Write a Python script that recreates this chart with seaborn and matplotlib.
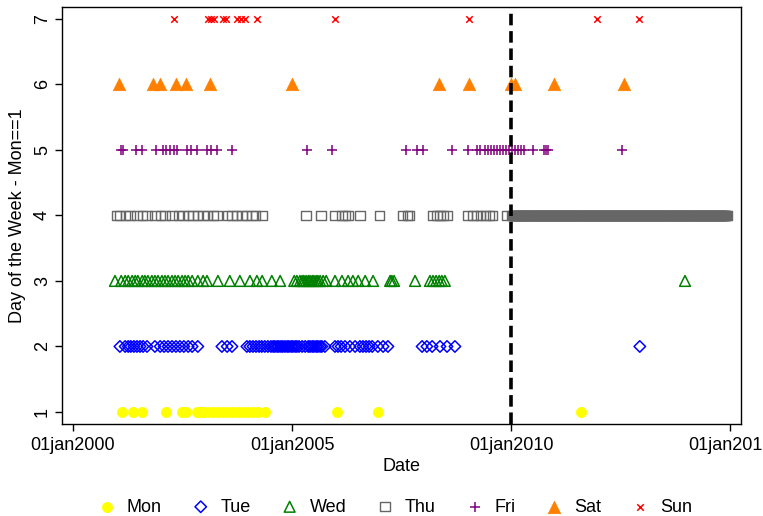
import numpy as np
import pandas as pd
import matplotlib
matplotlib.use("Agg")
import matplotlib.pyplot as plt
import matplotlib.dates as mdates
from matplotlib.ticker import FuncFormatter
import seaborn as sns

# ---------------- data (dates as decimal years) ----------------
day_names = ["Mon", "Tue", "Wed", "Thu", "Fri", "Sat", "Sun"]
day_numbers = [1, 2, 3, 4, 5, 6, 7]

mon_years = [2001.12, 2001.37, 2001.58, 2002.12, 2002.49, 2002.58, 2002.83, 2002.90,
             2002.97, 2003.08, 2003.20, 2003.31, 2003.42, 2003.54, 2003.65, 2003.77,
             2003.88, 2004.00, 2004.11, 2004.22, 2004.38, 2006.03, 2006.96, 2011.60]

tue_years = [2001.07, 2001.19, 2001.26, 2001.32, 2001.39, 2001.46, 2001.53, 2001.60,
             2001.69, 2001.87, 2001.99, 2002.08, 2002.17, 2002.26, 2002.35, 2002.44,
             2002.53, 2002.63, 2002.72, 2002.85, 2003.40, 2003.52, 2003.63, 2003.97,
             2004.04, 2004.11, 2004.18, 2004.25, 2004.31, 2004.38, 2004.45, 2004.52,
             2004.57, 2004.61, 2004.66, 2004.70, 2004.75, 2004.79, 2004.84, 2004.89,
             2004.93, 2004.98, 2005.02, 2005.07, 2005.11, 2005.16, 2005.23, 2005.30,
             2005.37, 2005.41, 2005.46, 2005.50, 2005.55, 2005.59, 2005.64, 2005.68,
             2005.75, 2005.98, 2006.05, 2006.12, 2006.21, 2006.32, 2006.44, 2006.55,
             2006.62, 2006.69, 2006.76, 2006.83, 2006.96, 2007.08, 2007.19, 2007.97,
             2008.08, 2008.20, 2008.38, 2008.54, 2008.72, 2012.94]

wed_years = [2000.96, 2001.10, 2001.19, 2001.26, 2001.35, 2001.42, 2001.48, 2001.58,
             2001.64, 2001.71, 2001.80, 2001.87, 2001.94, 2002.03, 2002.10, 2002.17,
             2002.26, 2002.33, 2002.40, 2002.49, 2002.56, 2002.63, 2002.72, 2002.85,
             2002.97, 2003.06, 2003.31, 2003.58, 2003.81, 2004.04, 2004.20, 2004.32,
             2004.54, 2004.73, 2005.05, 2005.11, 2005.18, 2005.23, 2005.27, 2005.32,
             2005.37, 2005.41, 2005.46, 2005.50, 2005.55, 2005.59, 2005.64, 2005.71,
             2005.78, 2005.98, 2006.14, 2006.28, 2006.39, 2006.51, 2006.67, 2006.85,
             2007.24, 2007.28, 2007.33, 2007.81, 2008.15, 2008.22, 2008.29, 2008.36,
             2008.42, 2008.49, 2013.97]

thu_years = [2001.00, 2001.07, 2001.19, 2001.30, 2001.46, 2001.58, 2001.69, 2001.87,
             2001.99, 2002.10, 2002.26, 2002.40, 2002.51, 2002.63, 2002.74, 2002.85,
             2002.97, 2003.08, 2003.20, 2003.29, 2003.52, 2003.63, 2003.74, 2003.86,
             2003.97, 2004.09, 2004.16, 2004.32, 2005.32, 2005.66, 2005.98, 2006.14,
             2006.21, 2006.28, 2006.55, 2006.99, 2007.53, 2007.63, 2007.69, 2008.22,
             2008.31, 2008.38, 2008.45, 2008.54, 2009.00, 2009.13, 2009.22, 2009.31,
             2009.41, 2009.50, 2009.57, 2009.89]
# from 2010 on, every Thursday is observed (solid band in the picture)
thu_weekly_start = "2010-01-07"
thu_weekly_end = "2014-12-11"

fri_years = [2001.10, 2001.14, 2001.44, 2001.58, 2001.89, 2002.05, 2002.12, 2002.21,
             2002.31, 2002.37, 2002.60, 2002.69, 2002.83, 2003.06, 2003.15, 2003.29,
             2003.63, 2005.34, 2005.91, 2007.60, 2007.85, 2007.99, 2008.65, 2009.02,
             2009.22, 2009.29, 2009.41, 2009.47, 2009.54, 2009.61, 2009.68, 2009.75,
             2009.82, 2009.89, 2009.95, 2010.02, 2010.09, 2010.16, 2010.23, 2010.30,
             2010.50, 2010.75, 2010.80, 2010.85, 2012.53]

sat_years = [2001.05, 2001.83, 2001.99, 2002.35, 2002.58, 2003.13, 2005.00, 2008.36,
             2009.04, 2010.00, 2010.09, 2010.98, 2012.58]

sun_years = [2002.31, 2003.08, 2003.15, 2003.22, 2003.42, 2003.49, 2003.74, 2003.84,
             2003.93, 2004.20, 2005.98, 2009.04, 2011.96, 2012.92]

cutoff_date = "2010-01-01"
x_tick_dates = ["2000-01-01", "2005-01-01", "2010-01-01", "2015-01-01"]
y_ticks = [1, 2, 3, 4, 5, 6, 7]
x_limits = (1999.75, 2015.25)
y_limits = (0.817, 7.18)


def dec_to_date(y):
    yr = int(np.floor(y))
    return pd.Timestamp(yr, 1, 1) + pd.Timedelta(days=(y - yr) * 365.25)


series = [mon_years, tue_years, wed_years, thu_years, fri_years, sat_years, sun_years]
rows = []
for name, num, yrs in zip(day_names, day_numbers, series):
    for y in yrs:
        rows.append((dec_to_date(y), num, name))
for d in pd.date_range(thu_weekly_start, thu_weekly_end, freq="W-THU"):
    rows.append((d, 4, "Thu"))
df = pd.DataFrame(rows, columns=["date", "dow", "day"])

# ---------------- styling ----------------
sns.set_style("ticks")
plt.rcParams["font.family"] = ["Liberation Sans", "DejaVu Sans"]
plt.rcParams["text.color"] = "black"
plt.rcParams["axes.labelcolor"] = "black"
plt.rcParams["xtick.color"] = "black"
plt.rcParams["ytick.color"] = "black"
FS = 13

fig = plt.figure(figsize=(7.63, 5.16), dpi=100)
ax = fig.add_axes([62 / 763, 1 - 424 / 516, (741 - 62) / 763, (424 - 7) / 516])

styles = {
    "Mon": dict(marker="o", s=55, color="#FFFF00", edgecolor="#FFFF00", linewidth=0.5),
    "Tue": dict(marker="D", s=34, color="#0000FF", facecolor="none", edgecolor="#0000FF", linewidth=1.1),
    "Wed": dict(marker="^", s=60, color="#008000", facecolor="none", edgecolor="#008000", linewidth=1.1),
    "Thu": dict(marker="s", s=44, color="#666666", facecolor="none", edgecolor="#666666", linewidth=1.0),
    "Fri": dict(marker="+", s=45, color="#800080", edgecolor="#800080", linewidth=1.1),
    "Sat": dict(marker="^", s=80, color="#FF8000", edgecolor="#FF8000", linewidth=0.5),
    "Sun": dict(marker="x", s=22, color="#FF0000", edgecolor="#FF0000", linewidth=1.1),
}

for name in day_names:
    sub = df[df["day"] == name]
    sns.scatterplot(data=sub, x="date", y="dow", ax=ax, label=name, **styles[name])

ax.axvline(pd.Timestamp(cutoff_date), color="black", linewidth=2.6,
           linestyle=(0, (3.2, 1.6)), zorder=5)

ax.set_xlim(dec_to_date(x_limits[0]), dec_to_date(x_limits[1]))
ax.set_ylim(*y_limits)
ax.set_xticks([pd.Timestamp(d) for d in x_tick_dates])
ax.xaxis.set_major_formatter(FuncFormatter(
    lambda v, p: mdates.num2date(v).strftime("%d%b%Y").lower()))
ax.set_yticks(y_ticks)
ax.tick_params(axis="both", direction="out", length=5, width=1, colors="black",
               labelsize=FS, bottom=True, left=True)
ax.tick_params(axis="x", pad=4)
ax.tick_params(axis="y", labelrotation=90, pad=3)
for lab in ax.get_yticklabels():
    lab.set_va("center")

for sp in ax.spines.values():
    sp.set_visible(True)
    sp.set_color("black")
    sp.set_linewidth(1.0)

ax.set_xlabel("Date", fontsize=FS, labelpad=3, color="black")
ax.set_ylabel("Day of the Week - Mon==1", fontsize=FS, labelpad=6, color="black")

handles, labels = ax.get_legend_handles_labels()
if ax.get_legend() is not None:
    ax.get_legend().remove()
leg = fig.legend(handles, labels, loc="center", bbox_to_anchor=(395 / 763, 1 - 507 / 516),
                 ncol=7, frameon=False, fontsize=FS, handlelength=1.0, handletextpad=0.6,
                 columnspacing=1.65, scatterpoints=1, borderpad=0.1)
for t in leg.get_texts():
    t.set_color("black")

fig.savefig("out.png", dpi=100, facecolor="white")
